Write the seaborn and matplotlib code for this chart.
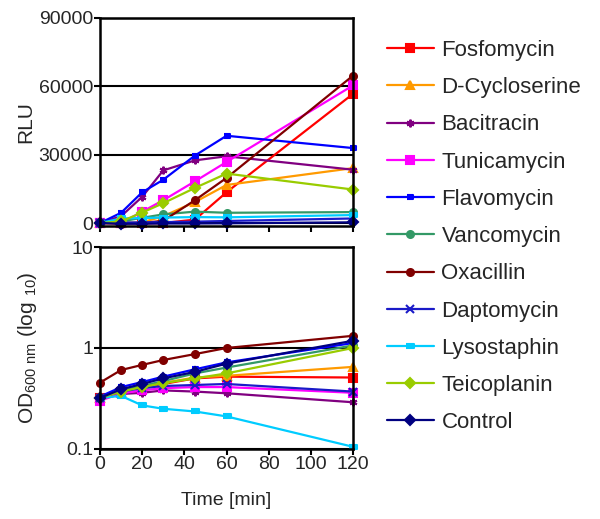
import numpy as np
import pandas as pd
import matplotlib
matplotlib.use('Agg')
import matplotlib.pyplot as plt
import seaborn as sns

sns.set_style('ticks')
plt.rcParams['font.family'] = ['Liberation Sans', 'DejaVu Sans']
plt.rcParams['mathtext.default'] = 'regular'

# time points (min)
times = [0, 10, 20, 30, 45, 60, 120]

drugs = ['Fosfomycin', 'D-Cycloserine', 'Bacitracin', 'Tunicamycin', 'Flavomycin',
         'Vancomycin', 'Oxacillin', 'Daptomycin', 'Lysostaphin', 'Teicoplanin', 'Control']

# luciferase signal (RLU)
rlu_fosfomycin = [0, 0, -200, 0, 1500, 13500, 56700]
rlu_cycloserine = [0, 0, 300, 3000, 9200, 16700, 24100]
rlu_bacitracin = [0, 3000, 11500, 23100, 27500, 29300, 23400]
rlu_tunicamycin = [0, 0, 5000, 10000, 18300, 26800, 60400]
rlu_flavomycin = [0, 4500, 13500, 19000, 29600, 38300, 32900]
rlu_vancomycin = [0, 700, 2300, 3800, 5000, 4500, 4800]
rlu_oxacillin = [0, -300, 0, 1000, 10000, 19800, 64700]
rlu_daptomycin = [0, 200, 300, 400, 600, 900, 2000]
rlu_lysostaphin = [0, 2000, 2200, 2400, 2600, 2500, 3500]
rlu_teicoplanin = [0, 700, 4600, 8700, 15400, 21700, 14700]
rlu_control = [0, -300, -300, -200, -200, -100, 300]

# optical density OD600
od_fosfomycin = [0.32, 0.37, 0.41, 0.44, 0.50, 0.52, 0.51]
od_cycloserine = [0.32, 0.37, 0.41, 0.45, 0.51, 0.53, 0.65]
od_bacitracin = [0.31, 0.35, 0.36, 0.38, 0.37, 0.356, 0.29]
od_tunicamycin = [0.30, 0.356, 0.38, 0.40, 0.41, 0.41, 0.36]
od_flavomycin = [0.33, 0.41, 0.46, 0.52, 0.615, 0.72, 1.12]
od_vancomycin = [0.32, 0.38, 0.42, 0.47, 0.56, 0.64, 1.06]
od_oxacillin = [0.454, 0.605, 0.68, 0.76, 0.87, 1.0, 1.32]
od_daptomycin = [0.32, 0.37, 0.40, 0.42, 0.43, 0.44, 0.37]
od_lysostaphin = [0.32, 0.335, 0.27, 0.25, 0.235, 0.21, 0.105]
od_teicoplanin = [0.32, 0.37, 0.41, 0.45, 0.50, 0.56, 1.0]
od_control = [0.32, 0.39, 0.44, 0.50, 0.58, 0.70, 1.18]

rlu = [rlu_fosfomycin, rlu_cycloserine, rlu_bacitracin, rlu_tunicamycin, rlu_flavomycin,
       rlu_vancomycin, rlu_oxacillin, rlu_daptomycin, rlu_lysostaphin, rlu_teicoplanin, rlu_control]
od = [od_fosfomycin, od_cycloserine, od_bacitracin, od_tunicamycin, od_flavomycin,
      od_vancomycin, od_oxacillin, od_daptomycin, od_lysostaphin, od_teicoplanin, od_control]

colors = ['#FF0000', '#FF9A00', '#800080', '#FF00FF', '#0000FF',
          '#339966', '#800000', '#1A1AC8', '#00CCFF', '#99CC00', '#000080']
dash_mark = [(-1, -0.45), (1, -0.45), (1, 0.45), (-1, 0.45)]
markers = ['s', '^', (6, 2, 0), 's', dash_mark, 'o', 'o', 'x', dash_mark, 'D', 'D']
msizes = [5.5, 6, 5.5, 5.5, 5, 5, 5, 5.5, 6, 5, 5]

fig = plt.figure(figsize=(6, 5.19), dpi=100)
ax1 = fig.add_axes([0.1667, 0.565, 0.4217, 0.4004])
ax2 = fig.add_axes([0.1667, 0.135, 0.4217, 0.389])

for i, name in enumerate(drugs):
    kw = dict(color=colors[i], marker=markers[i], markersize=msizes[i],
              markeredgecolor=colors[i], markerfacecolor=colors[i], markeredgewidth=1.5,
              linewidth=1.6, clip_on=False, label=name)
    sns.lineplot(x=times, y=rlu[i], ax=ax1, **kw)
    sns.lineplot(x=times, y=od[i], ax=ax2, **kw)

for ax in (ax1, ax2):
    ax.set_xlim(0, 120)
    ax.set_xticks([0, 20, 40, 60, 80, 100, 120])
    for s in ax.spines.values():
        s.set_visible(True)
        s.set_linewidth(1.8)
        s.set_color('black')
    ax.tick_params(axis='both', direction='out', length=4, width=1.5, labelsize=14, color='black', pad=1)
    ax.yaxis.grid(True, color='black', linewidth=1.5)
    ax.set_axisbelow(True)
    if ax.get_legend():
        ax.get_legend().remove()

ax1.set_ylim(-1200, 90000)
ax1.set_yticks([0, 30000, 60000, 90000])
ax1.set_yticklabels(['0', '30000', '60000', '90000'])
ax1.set_xticklabels([])
ax1.set_ylabel('RLU', fontsize=15)
ax1.yaxis.set_label_coords(-0.255, 0.5)

ax2.set_yscale('log')
ax2.set_ylim(0.1, 10)
ax2.set_yticks([0.1, 1, 10])
ax2.set_yticklabels(['0.1', '1', '10'])
ax2.yaxis.set_minor_locator(matplotlib.ticker.NullLocator())
ax2.set_ylabel(r'OD$_{600\ nm}$ (log $_{10}$)', fontsize=15)
ax2.yaxis.set_label_coords(-0.24, 0.5)
ax2.set_xlabel('Time [min]', fontsize=14, labelpad=14)

handles, labels = ax1.get_legend_handles_labels()
fig.legend(handles, labels, loc='upper left', bbox_to_anchor=(0.645, 0.923), frameon=False,
           fontsize=16, handlelength=2.1, handletextpad=0.35, labelspacing=0.73,
           borderpad=0, borderaxespad=0)

fig.savefig('out.png', dpi=100)
